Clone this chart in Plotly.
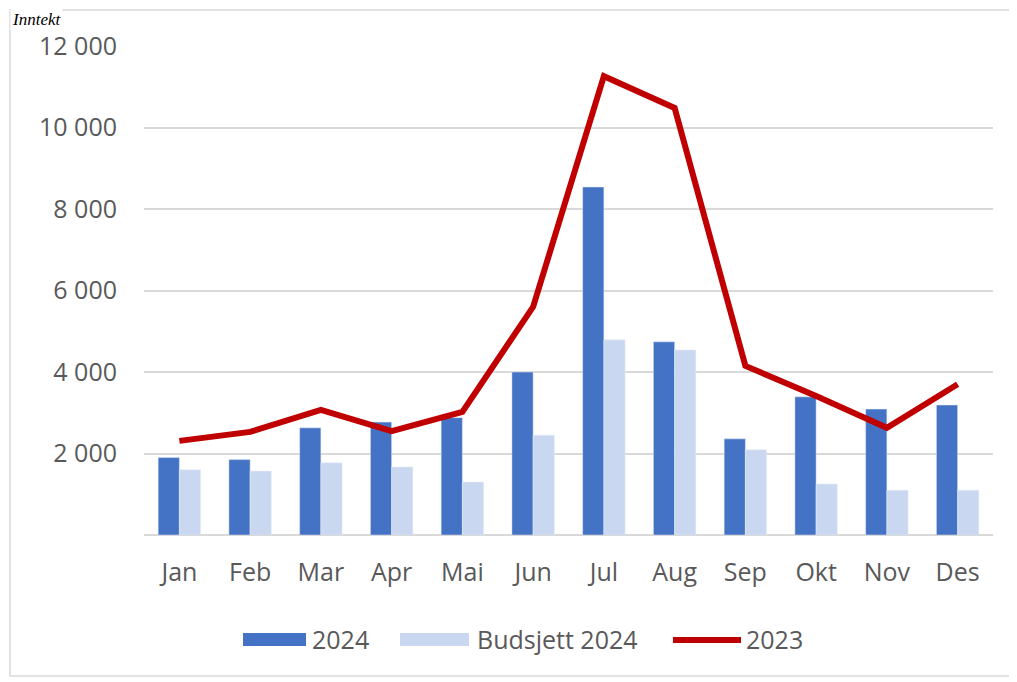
import plotly.graph_objects as go

months = ["Jan", "Feb", "Mar", "Apr", "Mai", "Jun", "Jul", "Aug", "Sep", "Okt", "Nov", "Des"]
v2024 = [1900, 1850, 2630, 2770, 2880, 4000, 8540, 4740, 2360, 3390, 3090, 3190]
budsjett2024 = [1600, 1570, 1770, 1670, 1300, 2450, 4790, 4540, 2090, 1250, 1100, 1100]
v2023 = [2310, 2530, 3070, 2550, 3020, 5600, 11260, 10480, 4150, 3410, 2630, 3700]
ytick_vals = [2000, 4000, 6000, 8000, 10000, 12000]
ytick_text = ["2 000", "4 000", "6 000", "8 000", "10 000", "12 000"]
series_names = ["2024", "Budsjett 2024", "2023"]
title_text = "Inntekt"

font_family = "Open Sans, Lato, sans-serif"
grey = "#595959"
c2024 = "#4472C4"
cbud = "#C9D7F0"
c2023 = "#C00000"

W, H = 1009, 674
L, R, T, B = 136, 24, 38, 147
PW, PH = W - L - R, H - T - B


def px(x):
    return (x - L) / PW


def py(y):
    return 1 - (y - T) / PH


fig = go.Figure()
fig.add_trace(go.Bar(x=months, y=v2024, name=series_names[0], marker=dict(color=c2024)))
fig.add_trace(go.Bar(x=months, y=budsjett2024, name=series_names[1], marker=dict(color=cbud)))
fig.add_trace(go.Scatter(x=months, y=v2023, name=series_names[2], mode="lines",
                         line=dict(color=c2023, width=6)))

shapes = [
    dict(type="rect", xref="paper", yref="paper",
         x0=px(2), x1=px(1006), y0=py(668), y1=py(2),
         line=dict(color="#D9D9D9", width=1.5), fillcolor="rgba(0,0,0,0)", layer="below"),
    # legend symbols
    dict(type="rect", xref="paper", yref="paper",
         x0=px(235), x1=px(298), y0=py(638), y1=py(625),
         line=dict(width=0), fillcolor=c2024),
    dict(type="rect", xref="paper", yref="paper",
         x0=px(392), x1=px(461), y0=py(638), y1=py(625),
         line=dict(width=0), fillcolor=cbud),
    dict(type="line", xref="paper", yref="paper",
         x0=px(665), x1=px(733), y0=py(632), y1=py(632),
         line=dict(color=c2023, width=6)),
]

annotations = [
    dict(text="<i>" + title_text + "</i>", xref="paper", yref="paper",
         x=px(2), y=py(0), xanchor="left", yanchor="top", showarrow=False,
         bgcolor="white",
         font=dict(family="Liberation Serif, serif", size=17, color="black")),
]
for name, x in zip(series_names, [302, 467, 736]):
    annotations.append(dict(text=name, xref="paper", yref="paper", x=px(x), y=py(631),
                            xanchor="left", yanchor="middle", showarrow=False,
                            font=dict(family=font_family, size=25, color=grey)))

fig.update_layout(
    width=W, height=H,
    margin=dict(l=L, r=R, t=T, b=B),
    paper_bgcolor="white", plot_bgcolor="white",
    barmode="group", bargap=0.4, bargroupgap=0,
    font=dict(family=font_family, size=25, color=grey),
    showlegend=False,
    xaxis=dict(showgrid=False, showline=False, ticks="", ticklabelstandoff=20,
               tickfont=dict(size=25, color=grey)),
    yaxis=dict(range=[0, 12000], tickvals=ytick_vals, ticktext=ytick_text,
               showgrid=True, gridcolor="#D9D9D9", gridwidth=1.5,
               zeroline=True, zerolinecolor="#D9D9D9", zerolinewidth=1.5,
               showline=False, ticks="", ticklabelstandoff=26,
               tickfont=dict(size=25, color=grey)),
    shapes=shapes,
    annotations=annotations,
)

fig.write_html("out.html")
